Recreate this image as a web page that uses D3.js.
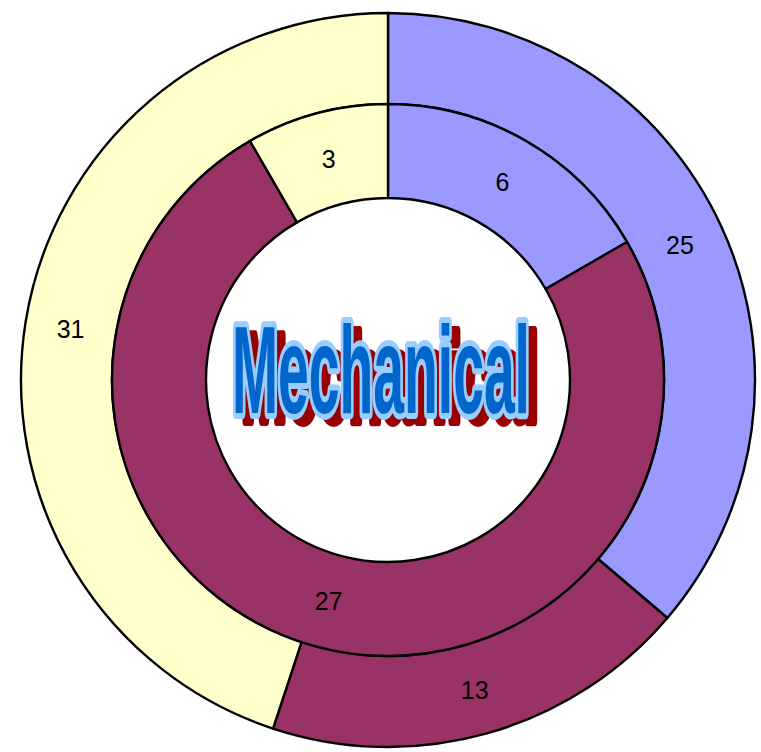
<!DOCTYPE html>
<html>
<head>
<meta charset="utf-8">
<script src="https://cdnjs.cloudflare.com/ajax/libs/d3/7.8.5/d3.min.js"></script>
<style>
  html, body { margin: 0; padding: 0; background: #ffffff; }
  svg { display: block; }
</style>
</head>
<body>
<svg id="chart" width="761" height="752"></svg>
<script>
// Ring data: outer ring and inner ring, same three categories
const categories = ["A", "B", "C"];
const outerValues = [25, 13, 31];
const innerValues = [6, 27, 3];
const colors = ["#9999FF", "#993366", "#FFFFCC"];
const title = "Mechanical";

const svg = d3.select("#chart");
const cx = 388, cy = 380;
const rOuter = 367, rMid = 276, rInner = 182;

const color = d3.scaleOrdinal().domain(categories).range(colors);

const pie = d3.pie().sort(null).value(d => d.value)
  .startAngle(0).endAngle(2 * Math.PI);

const rings = [
  { values: outerValues, inner: rMid, outer: rOuter },
  { values: innerValues, inner: rInner, outer: rMid }
];

const g = svg.append("g").attr("transform", `translate(${cx},${cy})`);

rings.forEach(ring => {
  const data = categories.map((c, i) => ({ cat: c, value: ring.values[i] }));
  const arcs = pie(data);
  const arc = d3.arc().innerRadius(ring.inner).outerRadius(ring.outer);

  const rg = g.append("g");
  rg.selectAll("path")
    .data(arcs)
    .join("path")
    .attr("d", arc)
    .attr("fill", d => color(d.data.cat))
    .attr("stroke", "#000")
    .attr("stroke-width", 2.4)
    .attr("stroke-linejoin", "round");

  rg.selectAll("text")
    .data(arcs)
    .join("text")
    .attr("transform", d => `translate(${arc.centroid(d)})`)
    .attr("text-anchor", "middle")
    .attr("dominant-baseline", "central")
    .attr("font-family", "Liberation Sans, Arial, sans-serif")
    .attr("font-size", 25)
    .attr("fill", "#000")
    .text(d => d.data.value);
});

// Centre title: condensed word with drop shadow and light outline
const titleX = 381, titleY = 413, titleWidth = 298, titleSize = 124;
const titleG = svg.append("g");
function titleLayer(dx, dy) {
  return titleG.append("text")
    .attr("x", 0)
    .attr("y", 0)
    .attr("text-anchor", "middle")
    .attr("font-family", "Liberation Sans, Arial, sans-serif")
    .attr("font-weight", "bold")
    .attr("font-size", titleSize)
    .attr("data-dx", dx)
    .attr("data-dy", dy)
    .text(title);
}
const shadow = titleLayer(9, 8)
  .attr("fill", "#990000")
  .attr("stroke", "#990000")
  .attr("stroke-width", 10)
  .attr("stroke-linejoin", "round");
const face = titleLayer(0, 0)
  .attr("fill", "#0066CC")
  .attr("stroke", "#99CCFF")
  .attr("stroke-width", 12)
  .attr("stroke-linejoin", "round")
  .attr("paint-order", "stroke");

// Squeeze each layer horizontally to the target width
const natural = face.node().getComputedTextLength();
const sx = titleWidth / natural;
[shadow, face].forEach(t => {
  const dx = +t.attr("data-dx"), dy = +t.attr("data-dy");
  t.attr("transform", `translate(${titleX + dx},${titleY + dy}) scale(${sx},1)`);
});
</script>
</body>
</html>
